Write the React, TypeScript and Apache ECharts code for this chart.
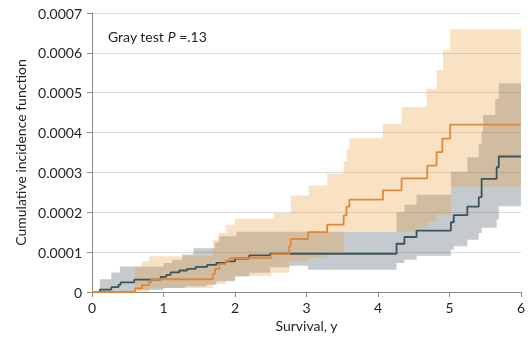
import React, { useEffect, useRef } from 'react';
import * as echarts from 'echarts';

const X_MAX = 6;
const Y_UNIT = 1e-4;
const X_TICKS = [0, 1, 2, 3, 4, 5, 6];
const Y_TICKS = [0, 0.0001, 0.0002, 0.0003, 0.0004, 0.0005, 0.0006, 0.0007];

// [survival (y), cumulative incidence in units of 0.0001]; each value holds until the next point
const orangeLine: number[][] = [[0,0],[0.60,0.09],[0.70,0.17],[0.80,0.25],[0.83,0.32],[1.69,0.45],[1.72,0.58],[1.78,0.70],[1.87,0.79],[1.93,0.85],[2.51,0.95],[2.76,1.15],[2.78,1.33],[3.02,1.50],[3.29,1.69],[3.52,1.92],[3.56,2.14],[3.60,2.32],[4.07,2.55],[4.33,2.85],[4.69,3.17],[4.82,3.51],[4.90,3.85],[5.01,4.20]];
const orangeUpper: number[][] = [[0.60,0.62],[0.70,0.77],[0.80,0.90],[1.69,1.31],[1.77,1.48],[1.87,1.69],[2.00,1.84],[2.54,1.98],[2.78,2.42],[3.03,2.67],[3.29,2.97],[3.52,3.28],[3.56,3.57],[3.60,3.86],[4.07,4.22],[4.33,4.64],[4.68,5.10],[4.82,5.57],[4.91,6.06],[5.01,6.59]];
const orangeLower: number[][] = [[0.60,0],[0.80,0.10],[1.69,0.20],[1.87,0.30],[2.00,0.40],[2.51,0.48],[2.76,0.77],[3.02,0.85],[3.29,0.98],[3.52,1.52],[4.54,1.60],[4.69,1.77],[4.82,1.94],[5.02,2.64]];
const grayLine: number[][] = [[0,0],[0.11,0.06],[0.27,0.12],[0.37,0.18],[0.40,0.24],[0.59,0.31],[0.96,0.38],[1.04,0.43],[1.10,0.49],[1.22,0.54],[1.33,0.58],[1.45,0.63],[1.61,0.68],[1.74,0.73],[1.87,0.77],[2.00,0.84],[2.20,0.92],[2.49,0.96],[4.26,1.21],[4.37,1.38],[4.54,1.54],[5.02,1.75],[5.06,1.93],[5.25,2.14],[5.41,2.38],[5.45,2.84],[5.66,3.13],[5.69,3.40]];
const grayUpper: number[][] = [[0.11,0.32],[0.27,0.49],[0.39,0.64],[1.00,0.73],[1.12,0.81],[1.26,0.94],[1.42,1.10],[1.72,1.25],[1.78,1.40],[2.02,1.51],[4.26,2.00],[4.37,2.19],[4.54,2.44],[5.02,3.02],[5.25,3.38],[5.41,3.72],[5.45,4.02],[5.47,4.44],[5.64,4.84],[5.69,5.24]];
const grayLower: number[][] = [[0.11,0],[0.59,0.05],[1.00,0.10],[1.30,0.14],[1.60,0.18],[1.74,0.27],[2.00,0.39],[2.20,0.48],[2.49,0.62],[2.76,0.66],[3.02,0.56],[4.26,0.73],[4.37,0.81],[4.54,0.91],[5.02,1.06],[5.06,1.15],[5.25,1.31],[5.41,1.48],[5.45,1.61],[5.66,1.82],[5.69,2.15]];

const ORANGE = '#e0873a';
const SLATE = '#3d535d';
const FONT = 'Lato';
const TEXT = '#231f20';

function valAt(pts: number[][], x: number): number {
  let v = pts[0][1];
  for (const p of pts) {
    if (p[0] <= x + 1e-9) v = p[1];
    else break;
  }
  return v;
}

function lineData(pts: number[][]) {
  const d = pts.map((p) => [p[0], p[1] * Y_UNIT]);
  d.push([X_MAX, pts[pts.length - 1][1] * Y_UNIT]);
  return d;
}

// rows: [x, lower, upper]
function bandRows(lower: number[][], upper: number[][]) {
  const xs = Array.from(new Set([...lower, ...upper].map((p) => p[0]).concat([X_MAX]))).sort((a, b) => a - b);
  return xs.map((x) => [x, valAt(lower, x) * Y_UNIT, valAt(upper, x) * Y_UNIT]);
}

function bandSeries(rows: number[][], fill: string, z: number) {
  return {
    type: 'custom',
    z,
    silent: true,
    data: rows,
    encode: { x: 0, y: [1, 2] },
    renderItem: (params: any, api: any) => {
      if (params.dataIndex !== 0) return null;
      const pts: number[][] = [];
      for (let i = 0; i < rows.length - 1; i++) {
        pts.push(api.coord([rows[i][0], rows[i][2]]));
        pts.push(api.coord([rows[i + 1][0], rows[i][2]]));
      }
      for (let i = rows.length - 2; i >= 0; i--) {
        pts.push(api.coord([rows[i + 1][0], rows[i][1]]));
        pts.push(api.coord([rows[i][0], rows[i][1]]));
      }
      return { type: 'polygon', shape: { points: pts }, style: { fill } };
    },
  };
}

export default function App() {
  const ref = useRef<HTMLDivElement>(null);
  useEffect(() => {
    if (!ref.current) return;
    const chart = echarts.init(ref.current, undefined, { renderer: 'svg' });
    const g = bandRows(grayLower, grayUpper);
    const o = bandRows(orangeLower, orangeUpper);
    chart.setOption({
      animation: false,
      textStyle: { fontFamily: FONT },
      grid: { left: 92, right: 4, top: 13, bottom: 47 },
      xAxis: {
        type: 'value',
        min: X_TICKS[0],
        max: X_TICKS[X_TICKS.length - 1],
        interval: 1,
        name: 'Survival, y',
        nameLocation: 'middle',
        nameGap: 26,
        nameTextStyle: { fontSize: 14, color: TEXT, fontFamily: FONT },
        axisLine: { show: true, lineStyle: { color: '#8a8a8a', width: 1 } },
        axisTick: { show: true, length: 5, lineStyle: { color: '#8a8a8a' } },
        axisLabel: { fontSize: 14, color: TEXT, margin: 8, fontFamily: FONT },
        splitLine: { show: false },
      },
      yAxis: {
        type: 'value',
        min: Y_TICKS[0],
        max: Y_TICKS[Y_TICKS.length - 1],
        interval: 0.0001,
        name: 'Cumulative incidence function',
        nameLocation: 'middle',
        nameGap: 62,
        nameTextStyle: { fontSize: 14, color: TEXT, fontFamily: FONT },
        axisLine: { show: true, lineStyle: { color: '#8a8a8a', width: 1 } },
        axisTick: { show: true, length: 5, lineStyle: { color: '#8a8a8a' } },
        axisLabel: {
          fontSize: 14,
          color: TEXT,
          margin: 10,
          fontFamily: FONT,
          formatter: (v: number) => (Math.abs(v) < 1e-12 ? '0' : v.toFixed(4)),
        },
        splitLine: { show: true, lineStyle: { color: '#dcdcdc', width: 1.2 } },
      },
      graphic: [
        {
          type: 'text',
          left: 108,
          top: 29,
          style: {
            text: '{a|Gray test }{b|P}{a| =.13}',
            rich: {
              a: { fontSize: 14, fontFamily: FONT, fill: TEXT },
              b: { fontSize: 14, fontFamily: FONT, fill: TEXT, fontStyle: 'italic' },
            },
          },
        },
      ],
      series: [
        bandSeries(g, 'rgba(60,80,90,0.3)', 1),
        bandSeries(o, 'rgba(235,160,60,0.3)', 2),
        { type: 'line', step: 'end', data: lineData(grayLine), symbol: 'none', lineStyle: { color: SLATE, width: 1.8 }, z: 3 },
        { type: 'line', step: 'end', data: lineData(orangeLine), symbol: 'none', lineStyle: { color: ORANGE, width: 1.8 }, z: 4 },
      ],
    });
    return () => chart.dispose();
  }, []);
  return <div ref={ref} style={{ position: 'fixed', left: 0, top: 0, width: 528, height: 339 }} />;
}
